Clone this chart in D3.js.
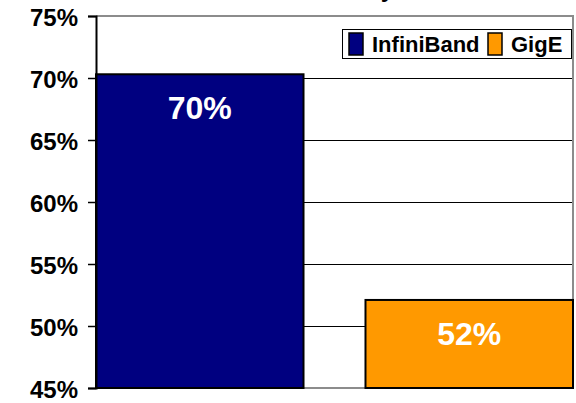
<!DOCTYPE html>
<html>
<head>
<meta charset="utf-8">
<script src="https://cdn.jsdelivr.net/npm/d3@7"></script>
<style>
  html, body { margin: 0; padding: 0; background: #fff; }
  svg { display: block; font-family: Arial, "Liberation Sans", Helvetica, sans-serif; }
</style>
</head>
<body>
<svg id="chart" width="576" height="403"></svg>
<script>
// Series shown as one cluster of two bars
const seriesNames = ["InfiniBand", "GigE"];
const seriesValues = [0.703, 0.521];
const seriesColors = ["#000080", "#FF9900"];
const yTicks = [0.45, 0.50, 0.55, 0.60, 0.65, 0.70, 0.75];
const titleText = "Efficiency";

const svg = d3.select("#chart");
const plot = { left: 96, right: 573, top: 16, bottom: 388 };

const y = d3.scaleLinear().domain([0.45, 0.75]).range([plot.bottom, plot.top]);
const x = d3.scaleBand().domain(seriesNames).range([plot.left, plot.right])
  .paddingInner(0.23).paddingOuter(0);
const pct = d3.format(".0%");

// Title (mostly above the visible area)
svg.append("text")
  .attr("x", 394).attr("y", -3)
  .attr("text-anchor", "end")
  .attr("font-size", 24).attr("font-weight", "bold")
  .text(titleText);

// Horizontal gridlines
svg.append("g").selectAll("line")
  .data(yTicks.filter(t => t > 0.45 && t < 0.75))
  .join("line")
  .attr("x1", plot.left).attr("x2", plot.right)
  .attr("y1", d => Math.round(y(d)) + 0.5).attr("y2", d => Math.round(y(d)) + 0.5)
  .attr("stroke", "#000").attr("stroke-width", 1);

// Plot area border (top, right, bottom)
svg.append("path")
  .attr("d", `M${plot.left},${plot.top}H${plot.right}V${plot.bottom}H${plot.left}`)
  .attr("fill", "none").attr("stroke", "#8c8c8c").attr("stroke-width", 2);

// Bars
svg.append("g").selectAll("rect")
  .data(seriesNames)
  .join("rect")
  .attr("x", d => x(d))
  .attr("y", (d, i) => y(seriesValues[i]))
  .attr("width", x.bandwidth())
  .attr("height", (d, i) => y(0.45) - y(seriesValues[i]))
  .attr("fill", (d, i) => seriesColors[i])
  .attr("stroke", "#000").attr("stroke-width", 2);

// Value labels inside the bars
svg.append("g").selectAll("text")
  .data(seriesNames)
  .join("text")
  .attr("x", d => x(d) + x.bandwidth() / 2)
  .attr("y", (d, i) => y(seriesValues[i]) + 45)
  .attr("text-anchor", "middle")
  .attr("font-size", 32).attr("font-weight", "bold")
  .attr("fill", "#fff")
  .text((d, i) => pct(seriesValues[i]));

// Y axis
const yAxis = d3.axisLeft(y).tickValues(yTicks).tickFormat(pct).tickSize(8).tickPadding(10);
const gy = svg.append("g").attr("transform", `translate(${plot.left},0)`).call(yAxis);
gy.select(".domain").attr("stroke", "#000").attr("stroke-width", 2);
gy.selectAll(".tick line").attr("stroke", "#000").attr("stroke-width", 1.5);
gy.selectAll(".tick text")
  .attr("font-size", 24).attr("font-weight", "bold").attr("fill", "#000")
  .attr("font-family", "Arial, 'Liberation Sans', sans-serif")
  .attr("dy", "0.4em");

// Legend
const legend = svg.append("g");
legend.append("rect")
  .attr("x", 342.5).attr("y", 29.5).attr("width", 229).attr("height", 29)
  .attr("fill", "#fff").attr("stroke", "#000").attr("stroke-width", 1);
const swatchX = [349, 488];
const items = legend.selectAll("g.item")
  .data(seriesNames)
  .join("g").attr("class", "item")
  .attr("transform", (d, i) => `translate(${swatchX[i]},33)`);
items.append("rect")
  .attr("width", 14).attr("height", 22)
  .attr("fill", (d, i) => seriesColors[i])
  .attr("stroke", "#000").attr("stroke-width", 1.5);
items.append("text")
  .attr("x", 23).attr("y", 19)
  .attr("font-size", 22).attr("font-weight", "bold")
  .text(d => d);
</script>
</body>
</html>
